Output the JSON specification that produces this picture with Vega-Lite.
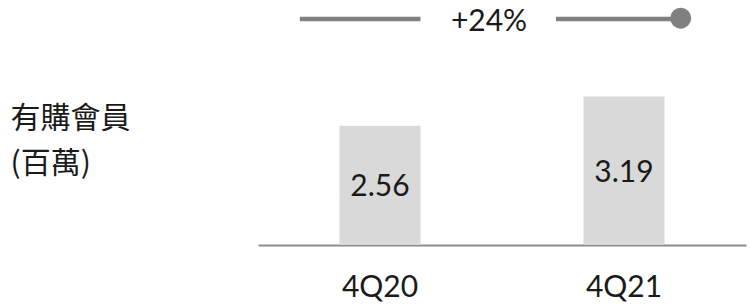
{
  "$schema": "https://vega.github.io/schema/vega-lite/v6.json",
  "width": 488,
  "height": 245,
  "autosize": "none",
  "padding": {"left": 258, "top": 0, "right": 4, "bottom": 62},
  "background": "white",
  "config": {"view": {"stroke": null}, "font": "Lato"},
  "data": {"values": [
    {"quarter": "4Q20", "members": 2.56},
    {"quarter": "4Q21", "members": 3.19}
  ]},
  "encoding": {
    "x": {
      "field": "quarter", "type": "nominal", "sort": null,
      "scale": {"paddingInner": 0.668, "paddingOuter": 0.334},
      "axis": {"title": null, "labelAngle": 0, "labelFontSize": 30, "labelColor": "#1a1a1a", "labelPadding": 27, "ticks": false, "domainColor": "#8c8c8c", "domainWidth": 2, "labelFont": "Lato"}
    }
  },
  "layer": [
    {
      "mark": {"type": "bar", "color": "#d9d9d9"},
      "encoding": {
        "y": {
          "field": "members", "type": "quantitative",
          "scale": {"domain": [0, 5.26], "nice": false, "zero": true},
          "axis": {"title": ["有購會員", "(百萬)"], "titleAngle": 0, "titleAlign": "left", "titleBaseline": "top", "titleX": -248, "titleY": 103, "titleFontSize": 30, "titleFont": "Noto Sans CJK TC", "titleFontWeight": "normal", "titleLineHeight": 45, "titleColor": "#1a1a1a", "labels": false, "ticks": false, "domain": false, "grid": false}
        }
      }
    },
    {
      "mark": {"type": "text", "fontSize": 30, "color": "#1a1a1a", "baseline": "middle", "dy": 2, "font": "Lato"},
      "encoding": {
        "y": {"field": "members", "type": "quantitative", "scale": {"domain": [0, 10.52], "nice": false}, "axis": null},
        "text": {"field": "members", "type": "quantitative", "format": ".2f"}
      }
    },
    {
      "data": {"values": [{"change": "+24%"}]},
      "layer": [
        {
          "mark": {"type": "rule", "color": "#808080", "strokeWidth": 4.5},
          "encoding": {
            "x": {"datum": "4Q20", "bandPosition": -0.49},
            "x2": {"datum": "4Q20", "bandPosition": 1.0},
            "y": {"datum": 4.85, "type": "quantitative", "scale": {"domain": [0, 5.26], "nice": false}, "axis": null}
          }
        },
        {
          "mark": {"type": "rule", "color": "#808080", "strokeWidth": 4.5},
          "encoding": {
            "x": {"datum": "4Q21", "bandPosition": -0.34},
            "x2": {"datum": "4Q21", "bandPosition": 1.2},
            "y": {"datum": 4.85, "type": "quantitative", "scale": {"domain": [0, 5.26], "nice": false}, "axis": null}
          }
        },
        {
          "mark": {"type": "point", "filled": true, "color": "#808080", "size": 440, "opacity": 1},
          "encoding": {
            "x": {"datum": "4Q21", "bandPosition": 1.2},
            "y": {"datum": 4.87, "type": "quantitative", "scale": {"domain": [0, 5.26], "nice": false}, "axis": null}
          }
        },
        {
          "mark": {"type": "text", "fontSize": 30, "color": "#1a1a1a", "baseline": "middle", "dy": 3, "font": "Lato"},
          "encoding": {
            "x": {"datum": "4Q20", "bandPosition": 1.846},
            "y": {"datum": 4.85, "type": "quantitative", "scale": {"domain": [0, 5.26], "nice": false}, "axis": null},
            "text": {"field": "change"}
          }
        }
      ]
    }
  ],
  "resolve": {"scale": {"y": "independent"}}
}
